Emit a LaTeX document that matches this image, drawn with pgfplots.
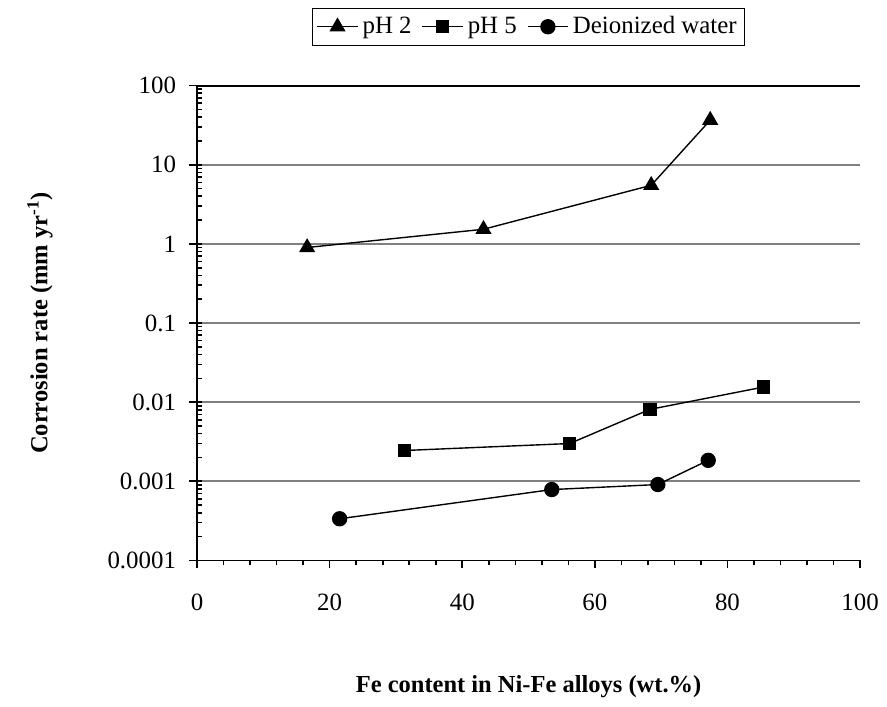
\documentclass[border=0pt]{standalone}
\usepackage{fontspec}
\setmainfont{Liberation Serif}
\usepackage{pgfplots}
\pgfplotsset{compat=1.18}

\begin{document}
\fontsize{12.5}{14}\selectfont
\begin{tikzpicture}
\begin{axis}[
    name=ax,
    scale only axis,
    width=333pt, height=238.5pt,
    xmin=0, xmax=100,
    ymode=log, ymin=1e-4, ymax=100,
    axis x line*=box,
    axis y line*=left,
    y axis line style={-},
    line width=0.9pt,
    xtick={0,20,40,60,80,100},
    minor xtick={4,8,12,16,24,28,32,36,44,48,52,56,64,68,72,76,84,88,92,96},
    xtick pos=bottom,
    ytick pos=left,
    ytick={1e-4,1e-3,1e-2,1e-1,1,10,100},
    yticklabels={0.0001,0.001,0.01,0.1,1,10,100},
    tick align=outside,
    major tick length=4pt,
    minor tick length=2.5pt,
    minor y tick style={xshift=2.5pt},
    every tick/.style={black, line width=0.8pt},
    ymajorgrids,
    major grid style={gray, line width=0.8pt},
    /pgf/number format/assume math mode=true,
    tick label style={font=\fontsize{12.5}{14}\selectfont},
    xticklabel style={yshift=-8pt},
    yticklabel style={xshift=-2pt},
    xlabel={\bfseries Fe content in Ni-Fe alloys (wt.\%)},
    ylabel={\bfseries Corrosion rate (mm yr\textsuperscript{-1})},
    xlabel style={at={(axis description cs:0.5,-0.266)}, anchor=center, font=\fontsize{12.3}{14}\selectfont},
    ylabel style={at={(axis description cs:-0.237,0.5)}, anchor=center, font=\fontsize{12.3}{14}\selectfont},
    legend columns=3,
    legend style={at={(0.5,1)}, anchor=south, yshift=20pt, draw=black, line width=0.6pt,
        font=\fontsize{12.5}{14}\selectfont, inner sep=2pt,
        /tikz/every even column/.append style={column sep=3pt}},
    legend image code/.code={
        \draw[#1, mark repeat=2, mark phase=2] plot coordinates {(0cm,0cm) (0.36cm,0cm) (0.72cm,0cm)};},
    legend image post style={line width=0.7pt},
]
\addplot[black, line width=0.7pt, mark=triangle*, mark size=4pt] coordinates {
    (16.6,0.90) (43.2,1.53) (68.5,5.5) (77.4,36.6)};
\addplot[black, line width=0.7pt, mark=square*, mark size=3pt] coordinates {
    (31.3,0.00245) (56.2,0.0030) (68.3,0.0081) (85.4,0.0155)};
\addplot[black, line width=0.7pt, mark=*, mark size=3.5pt] coordinates {
    (21.5,0.000336) (53.5,0.000786) (69.5,0.00091) (77.1,0.00184)};
\legend{pH 2, pH 5, Deionized water}
\end{axis}
\useasboundingbox (-99pt,-72pt) rectangle (344.5pt,281.5pt);
\end{tikzpicture}
\end{document}
